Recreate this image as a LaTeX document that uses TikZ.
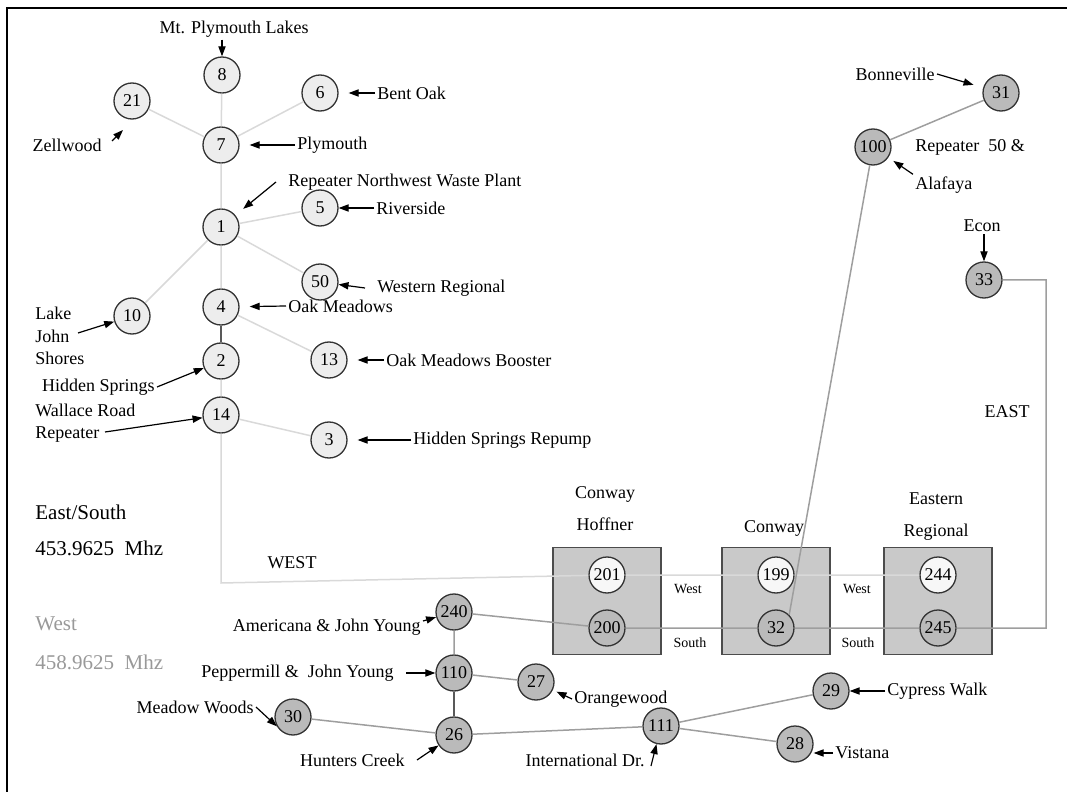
\documentclass[tikz,border=0pt]{standalone}
\usepackage{fontspec}
\setmainfont{Liberation Serif}
\usetikzlibrary{arrows.meta}

\begin{document}
\begin{tikzpicture}[x=0.5pt, y=-0.5pt,
    plant/.style={circle, draw=black!80, line width=0.65pt, fill=black!7, minimum size=18pt, inner sep=0pt, font=\fontsize{9}{9}\selectfont},
    pump/.style={plant, fill=black!27},
    inbox/.style={plant, fill=black!3},
    station/.style={draw=black!70, line width=0.6pt, fill=black!21, minimum width=54pt, minimum height=53.5pt, inner sep=0pt},
    lbl/.style={inner sep=1pt, font=\fontsize{9}{11.25}\selectfont, align=left},
    head/.style={inner sep=1pt, font=\fontsize{9}{16}\selectfont, align=center},
    txtSmall/.style={inner sep=1pt, font=\fontsize{7}{8}\selectfont},
    txtBig/.style={inner sep=1pt, font=\fontsize{10.5}{12}\selectfont},
    callout/.style={-{Triangle[length=5pt,width=3.6pt]}, line width=0.6pt},
    spaced/.style={shorten >=5pt},
    wireLite/.style={draw=black!15, line width=0.75pt},
    wireMid/.style={draw=black!38, line width=0.75pt},
    wireDark/.style={draw=black!65, line width=0.9pt}]
    \useasboundingbox (0,0) rectangle (1067,792);
    %%%%% FRAME %%%%%
    \draw[line width=1.3pt] (7,792) -- (7,8) -- (1067,8);

    %%%%% NORTH-WEST %%%%%
    \node[plant] (n8) at (222,75) {8};
    \node[plant] (n6) at (320,93) {6};
    \node[plant] (n21) at (132,101) {21};
    \node[plant] (n7) at (221,145) {7};
    \node[plant] (n5) at (320,208) {5};
    \node[plant] (n1) at (221,227) {1};
    \node[plant] (n50) at (320,282) {50};
    \node[plant] (n4) at (221,307) {4};
    \node[plant] (n10) at (132,316) {10};
    \node[plant] (n2) at (221,361) {2};
    \node[plant] (n13) at (329,360) {13};
    \node[plant] (n14) at (221,415) {14};
    \node[plant] (n3) at (329,440) {3};

    %%%%% STATIONS %%%%%
    \node[station] (bHoffner) at (607,601) {};
    \node[station] (bConway) at (776,601) {};
    \node[station] (bEastern) at (938,601) {};
    \node[inbox] (n201) at (607,575) {201};
    \node[pump] (n200) at (607,628) {200};
    \node[inbox] (n199) at (776,575) {199};
    \node[pump] (n32) at (776,628) {32};
    \node[inbox] (n244) at (938,575) {244};
    \node[pump] (n245) at (938,628) {245};
    \node[head] (tHoffner) at (605,509) {Conway\\Hoffner};
    \node[head] (tConway) at (774,528) {Conway};
    \node[head] (tEastern) at (936,517) {Eastern\\Regional};
    \node[txtSmall] (tWest1) at (688,589) {West};
    \node[txtSmall] (tSouth1) at (690,643) {South};
    \node[txtSmall] (tWest2) at (857,589) {West};
    \node[txtSmall] (tSouth2) at (858,643) {South};

    %%%%% EAST %%%%%
    \node[pump] (n31) at (1001,93) {31};
    \node[pump] (n100) at (873,147) {100};
    \node[pump] (n33) at (984,280) {33};

    %%%%% SOUTH %%%%%
    \node[pump] (n240) at (454,612) {240};
    \node[pump] (n110) at (454,673) {110};
    \node[pump] (n27) at (536,682) {27};
    \node[pump] (n30) at (293,717) {30};
    \node[pump] (n26) at (454,735) {26};
    \node[pump] (n111) at (661,726) {111};
    \node[pump] (n29) at (831,691) {29};
    \node[pump] (n28) at (795,744) {28};

    %%%%% LINKS %%%%%
    \draw[wireLite] (n8) -- (n7) -- (n1) -- (n4);
    \draw[wireLite] (n21) -- (n7) -- (n6);
    \draw[wireLite] (n5) -- (n1) -- (n50);
    \draw[wireLite] (n10) -- (n1);
    \draw[wireLite] (n4) -- (n13);
    \draw[wireDark] (n4) -- (n2);
    \draw[wireLite] (n2) -- (n14) -- (n3);
    \coordinate (wCorner) at (221,583);
    \draw[wireLite] (n14) -- (wCorner) -- (n201) -- (n199) -- (n244);
    \coordinate (eTop) at (1046,280);
    \coordinate (eBot) at (1046,628);
    \draw[wireMid] (n33) -- (eTop) -- (eBot) -- (n245) -- (n32) -- (n200) -- (n240);
    \draw[wireMid] (n100) -- (n31);
    \draw[wireMid] (n100) -- (n32.north east);
    \draw[wireMid] (n240) -- (n110) -- (n27);
    \draw[wireDark] (n110) -- (n26);
    \draw[wireMid] (n30) -- (n26) -- (n111) -- (n29);
    \draw[wireMid] (n111) -- (n28);

    %%%%% NAMES %%%%%
    \node[lbl] (lMtPly) at (234,29) {Mt. Plymouth Lakes};
    \draw[callout] (lMtPly.south -| n8) -- (n8);
    \node[lbl, anchor=west] (lBentOak) at (375,93) {Bent Oak};
    \draw[callout, spaced] (lBentOak.west) -- (n6);
    \node[lbl, anchor=east] (lZellwood) at (104,145) {Zellwood};
    \coordinate (zTip) at (123,130);
    \draw[callout] ([shift={(4pt,2pt)}]lZellwood.east) -- (zTip);
    \node[lbl, anchor=west] (lPlymouth) at (295,145) {Plymouth};
    \draw[callout, spaced] (lPlymouth.west) -- (n7);
    \node[lbl, anchor=west] (lRepNW) at (286,182) {Repeater Northwest Waste Plant};
    \draw[callout, spaced] ([xshift=-5pt]lRepNW.west) -- (n1);
    \node[lbl, anchor=west] (lRiverside) at (374,208) {Riverside};
    \draw[callout] (lRiverside.west) -- (n5);
    \node[lbl, anchor=west] (lWestReg) at (375,288) {Western Regional};
    \draw[callout] ([xshift=-5pt]lWestReg.west) -- (n50);
    \node[lbl, anchor=west] (lOakMd) at (286,306) {Oak Meadows};
    \draw[callout, spaced] (lOakMd.west) -- (n4);
    \node[lbl, anchor=west] (lLake) at (33,336) {Lake\\John\\Shores};
    \coordinate (lakeTail) at (78,333);
    \draw[callout] (lakeTail) -- (n10);
    \node[lbl, anchor=west] (lBooster) at (384,360) {Oak Meadows Booster};
    \draw[callout, spaced] (lBooster.west) -- (n13);
    \node[lbl, anchor=east] (lHidden) at (157,387) {Hidden Springs};
    \draw[callout] (lHidden.east) -- (n2);
    \node[lbl, anchor=west] (lWallace) at (33,423) {Wallace Road\\Repeater};
    \coordinate (wallTail) at (105,432);
    \draw[callout] (wallTail) -- (n14);
    \node[lbl, anchor=west] (lRepump) at (411,440) {Hidden Springs Repump};
    \draw[callout, spaced] (lRepump.west) -- (n3);

    \node[lbl, anchor=east] (lBonneville) at (937,74) {Bonneville};
    \draw[callout, spaced] (lBonneville.east) -- (n31);
    \node[lbl, anchor=west] (lRep50) at (913,147) {Repeater\ \ 50 \&};
    \node[lbl, anchor=west] (lAlafaya) at (913,185) {Alafaya};
    \draw[callout, shorten >=3pt] (lAlafaya.north west) -- (n100);
    \node[lbl] (lEcon) at (982,226) {Econ};
    \draw[callout] (lEcon.south -| n33) -- (n33);
    \node[lbl] (lEAST) at (1007,412) {EAST};
    \node[lbl] (lWEST) at (292,563) {WEST};

    \node[lbl, anchor=east] (lAmericana) at (423,627) {Americana \& John Young};
    \draw[callout] ([yshift=3pt]lAmericana.east) -- (n240);
    \node[lbl, anchor=east] (lPeppermill) at (396,673) {Peppermill \&\ \ John Young};
    \draw[callout] ([xshift=5pt]lPeppermill.east) -- (n110);
    \node[lbl, anchor=west] (lOrangewood) at (572,699) {Orangewood};
    \draw[callout, shorten >=2pt] (lOrangewood.west) -- (n27);
    \node[lbl, anchor=east] (lMeadow) at (256,707) {Meadow Woods};
    \draw[callout] (lMeadow.east) -- (n30.210);
    \node[lbl, anchor=east] (lHunters) at (407,760) {Hunters Creek};
    \draw[callout] ([xshift=5pt]lHunters.east) -- (n26);
    \node[lbl, anchor=east] (lIntl) at (647,760) {International Dr.};
    \draw[callout] ([shift={(2pt,-3pt)}]lIntl.east) -- (n111);
    \node[lbl, anchor=west] (lCypress) at (885,691) {Cypress Walk};
    \draw[callout] (lCypress.west) -- (n29);
    \node[lbl, anchor=west] (lVistana) at (833,753) {Vistana};
    \draw[callout] (lVistana.west) -- (lVistana.west -| n28.east);

    %%%%% LEGEND %%%%%
    \node[txtBig, anchor=west] (gEast) at (33,512) {East/South};
    \node[txtBig, anchor=west] (gEastHz) at (33,548) {453.9625\ \ Mhz};
    \node[txtBig, anchor=west, text=black!40] (gWest) at (33,624) {West};
    \node[txtBig, anchor=west, text=black!40] (gWestHz) at (33,662) {458.9625\ \ Mhz};
\end{tikzpicture}
\end{document}
